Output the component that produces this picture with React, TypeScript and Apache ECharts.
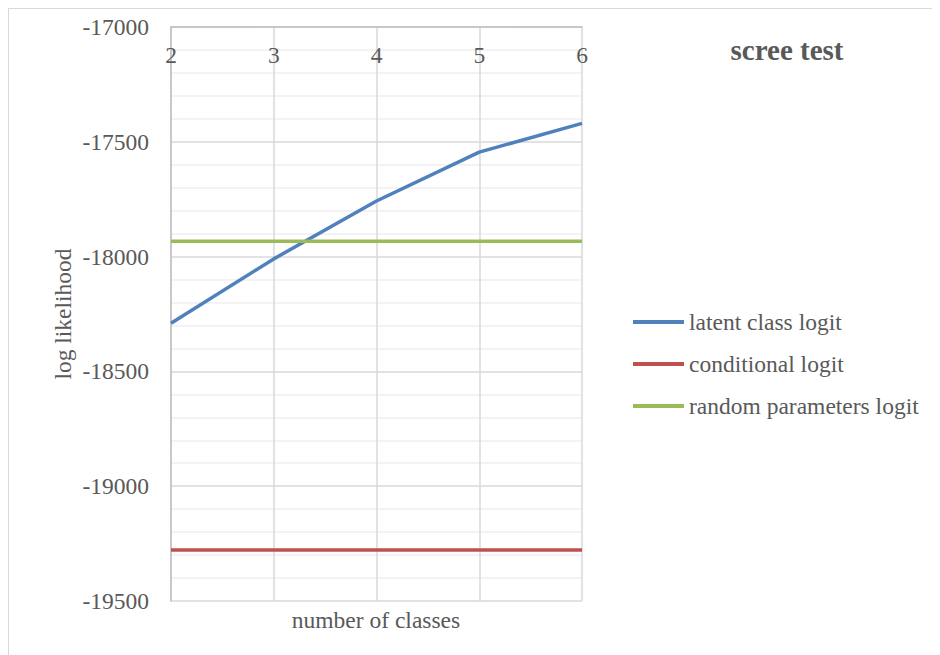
import React, { useEffect, useRef } from "react";
import * as echarts from "echarts";

const classes = ["2", "3", "4", "5", "6"];
const latentClassLogit = [-18290, -18010, -17758, -17545, -17420];
const conditionalLogit = [-19278, -19278, -19278, -19278, -19278];
const randomParametersLogit = [-17933, -17933, -17933, -17933, -17933];

const FONT = "'Liberation Serif', 'Times New Roman', serif";

export default function App() {
  const ref = useRef<HTMLDivElement>(null);
  useEffect(() => {
    if (!ref.current) return;
    const chart = echarts.init(ref.current, null, { renderer: "svg" });
    chart.setOption({
      animation: false,
      backgroundColor: "#ffffff",
      textStyle: { fontFamily: FONT },
      grid: { left: 162, top: 18, width: 411, height: 574, containLabel: false },
      legend: {
        orient: "vertical",
        left: 619,
        top: 296,
        itemWidth: 51,
        itemHeight: 4,
        itemGap: 18,
        icon: "rect",
        textStyle: { fontFamily: FONT, fontSize: 23.5, color: "#595959", lineHeight: 24 },
        data: ["latent class logit", "conditional logit", "random parameters logit"],
      },
      xAxis: {
        type: "category",
        data: classes,
        position: "top",
        boundaryGap: false,
        axisLine: { show: true, lineStyle: { color: "#bfbfbf", width: 1.5 } },
        axisTick: { show: false },
        axisLabel: { inside: true, margin: 16, fontFamily: FONT, fontSize: 23.5, color: "#595959", showMinLabel: true, showMaxLabel: true },
        splitLine: { show: true, lineStyle: { color: "#d9d9d9", width: 1.5 } },
      },
      yAxis: {
        type: "value",
        min: -19500,
        max: -17000,
        interval: 500,
        name: "log likelihood",
        nameLocation: "middle",
        nameGap: 96,
        nameTextStyle: { fontFamily: FONT, fontSize: 23.5, color: "#595959" },
        axisLine: { show: true, lineStyle: { color: "#bfbfbf", width: 1.5 } },
        axisTick: { show: false },
        axisLabel: {
          margin: 22,
          fontFamily: FONT,
          fontSize: 23.5,
          color: "#595959",
          formatter: (v: number) => String(v),
        },
        splitLine: { show: true, lineStyle: { color: "#d9d9d9", width: 1.5 } },
        minorTick: { show: false, splitNumber: 5 },
        minorSplitLine: { show: true, lineStyle: { color: "#efefef", width: 1.5 } },
      },
      graphic: [
        {
          type: "text",
          x: 778,
          y: 41,
          style: {
            text: "scree test",
            fontFamily: FONT,
            fontSize: 29,
            fontWeight: "bold",
            fill: "#595959",
            align: "center",
            verticalAlign: "middle",
          },
        },
        {
          type: "text",
          x: 367,
          y: 611,
          style: {
            text: "number of classes",
            fontFamily: FONT,
            fontSize: 23.5,
            fill: "#595959",
            align: "center",
            verticalAlign: "middle",
          },
        },
      ],
      series: [
        {
          name: "latent class logit",
          type: "line",
          data: latentClassLogit,
          showSymbol: false,
          lineStyle: { color: "#4F81BD", width: 3.5 },
          itemStyle: { color: "#4F81BD" },
        },
        {
          name: "conditional logit",
          type: "line",
          data: conditionalLogit,
          showSymbol: false,
          lineStyle: { color: "#C0504D", width: 3.5 },
          itemStyle: { color: "#C0504D" },
        },
        {
          name: "random parameters logit",
          type: "line",
          data: randomParametersLogit,
          showSymbol: false,
          lineStyle: { color: "#9BBB59", width: 3.5 },
          itemStyle: { color: "#9BBB59" },
        },
      ],
    });
    return () => chart.dispose();
  }, []);
  return (
    <div
      ref={ref}
      style={{ width: 940, height: 655, border: "1px solid #d9d9d9", boxSizing: "border-box" }}
    />
  );
}
